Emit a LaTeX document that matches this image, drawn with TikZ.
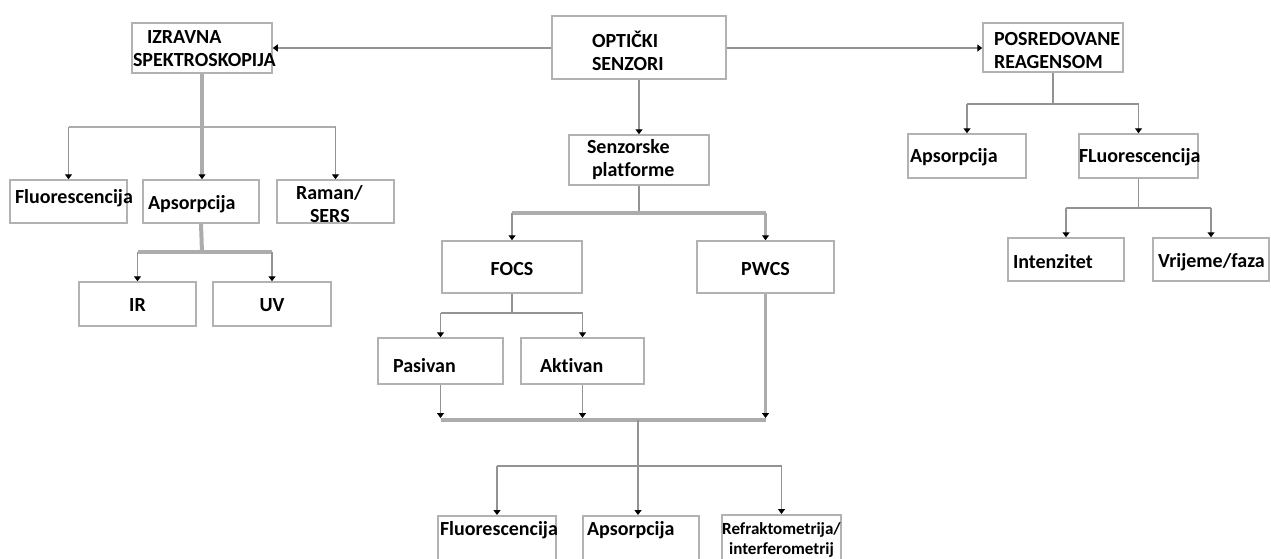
\documentclass[tikz,border=0pt]{standalone}
\usepackage{fontspec}
\setmainfont[Ligatures=NoCommon]{Carlito}
\usetikzlibrary{arrows.meta}
\hyphenpenalty=10000

\begin{document}
\begin{tikzpicture}[x=1pt,y=-1pt,
  box/.style={draw=gray!60,line width=1.5pt,rectangle,inner ysep=0pt,align=left,
    font=\fontsize{20}{23}\selectfont\bfseries},
  ln/.style={draw=gray!85,line width=1.5pt},
  thk/.style={draw=gray!65,line width=3.5pt},
  arr/.style={ln,-{Triangle[length=5pt,width=7pt,black]}},
  tarr/.style={thk,-{Triangle[length=5pt,width=7pt,black]}}]
\useasboundingbox (0,0) rectangle (1271,558);

% top row
\node[box,inner xsep=40pt,text width=94pt,text height=31pt,text depth=32pt] (opticki) at (639,47.5) {OPTIČKI\\SENZORI};
\node[box,inner xsep=1pt,text width=138pt,text height=20pt,text depth=30pt] (izravna) at (202,48) {\hspace*{14pt}IZRAVNA\\SPEKTROSKOPIJA};
\node[box,inner xsep=11pt,text width=118pt,text height=22pt,text depth=27pt] (posred) at (1053,47.5) {POSREDOVANE\\REAGENSOM};
\node[box,inner xsep=18pt,text width=104pt,text height=18pt,text depth=32pt] (senz) at (639,160) {Senzorske\\\hspace*{5pt}platforme};

% izravna spektroskopija
\node[box,inner xsep=5pt,text width=107pt,text height=23pt,text depth=20pt] (fluoA) at (68.5,201.5) {Fluorescencija};
\node[box,inner xsep=5pt,text width=106pt,text height=29pt,text depth=14pt] (apsoA) at (201,201.5) {Apsorpcija};
\node[box,inner xsep=19pt,text width=79pt,text height=19pt,text depth=24pt] (raman) at (335.5,201.5) {Raman/\\\hspace*{14pt}SERS};
\node[box,inner xsep=0pt,text width=117pt,align=center,text height=29pt,text depth=15pt] (ir) at (137.5,304) {IR};
\node[box,inner xsep=0pt,text width=118pt,align=center,text height=29pt,text depth=15pt] (uv) at (272,304) {UV};

% senzorske platforme
\node[box,inner xsep=0pt,text width=140pt,align=center,text height=34pt,text depth=18pt] (focs) at (512,267) {FOCS};
\node[box,inner xsep=0pt,text width=137pt,align=center,text height=34pt,text depth=18pt] (pwcs) at (765.5,267) {PWCS};
\node[box,inner xsep=15pt,text width=95pt,text height=34pt,text depth=12pt] (pasivan) at (440.5,361) {Pasivan};
\node[box,inner xsep=19pt,text width=85pt,text height=34pt,text depth=12pt] (aktivan) at (582.5,361) {Aktivan};
\node[box,anchor=north,inner xsep=2pt,text width=114pt,text height=20pt,text depth=28pt] (fluoB) at (497,515) {Fluorescencija};
\node[box,anchor=north,inner xsep=4pt,text width=108pt,text height=20pt,text depth=28pt] (apsoB) at (641,515) {Apsorpcija};
\node[box,anchor=north,inner xsep=0pt,minimum width=117pt,text height=20pt,text depth=30pt,align=center,
  font=\fontsize{17}{20}\selectfont\bfseries] (refr) at (781.5,514)
  {\begin{tabular}[t]{@{}c@{}}Refraktometrija/\\interferometrij\end{tabular}};

% posredovane reagensom
\node[box,inner xsep=2pt,text width=114pt,text height=28pt,text depth=16pt] (apsoC) at (967,156) {Apsorpcija};
\node[box,inner xsep=0pt,text width=119pt,text height=28pt,text depth=16pt] (fluoC) at (1138.5,156) {FLuorescencija};
\node[box,inner xsep=5pt,text width=106pt,text height=30pt,text depth=13pt] (intenz) at (1066,259.5) {Intenzitet};
\node[box,inner xsep=5pt,text width=106pt,text height=29pt,text depth=14pt] (vrij) at (1211,259.5) {Vrijeme/faza};

\draw[arr] (opticki.west |- izravna.east) -- (izravna.east);
\draw[arr] (opticki.east |- izravna.east) -- (posred.west |- izravna.east);
\draw[arr] (opticki) -- (senz);

\coordinate (b1) at (202,127);
\coordinate (b2) at (202,252);
\draw[thk,line width=2.5pt] (fluoA.north |- b1) -- (raman.north |- b1);
\draw[tarr,line width=4pt] (izravna.south) -- (izravna.south |- apsoA.north);
\draw[arr] (fluoA.north |- b1) -- (fluoA.north);
\draw[arr] (raman.north |- b1) -- (raman.north);
\draw[thk,line width=4pt] (apsoA.south) -- (b2);
\draw[thk] (ir.north |- b2) -- (uv.north |- b2);
\draw[arr] (ir.north |- b2) -- (ir.north);
\draw[arr] (uv.north |- b2) -- (uv.north);

\coordinate (b3) at (639,213);
\draw[ln] (senz.south) -- (b3);
\draw[thk] (focs.north |- b3) -- (pwcs.north |- b3);
\draw[arr] (focs.north |- b3) -- (focs.north);
\draw[tarr,line width=2.5pt] (pwcs.north |- b3) -- (pwcs.north);

\coordinate (b4) at (512,313);
\draw[ln] (focs.south) -- (b4);
\draw[ln] (pasivan.north |- b4) -- (aktivan.north |- b4);
\draw[arr] (pasivan.north |- b4) -- (pasivan.north);
\draw[arr] (aktivan.north |- b4) -- (aktivan.north);

\coordinate (b5) at (638,420);
\coordinate (b5a) at (638,418);
\coordinate (b6) at (638,466);
\draw[thk] (pasivan.south |- b5) -- (pwcs.south |- b5);
\draw[arr] (pasivan.south) -- (pasivan.south |- b5a);
\draw[arr] (aktivan.south) -- (aktivan.south |- b5a);
\draw[tarr,line width=2.5pt] (pwcs.south) -- (pwcs.south |- b5a);
\draw[ln] (b5) -- (b6);
\draw[ln] (fluoB.north |- b6) -- (refr.north |- b6);
\draw[arr] (fluoB.north |- b6) -- (fluoB.north);
\draw[arr] (b6) -- (b6 |- apsoB.north);
\draw[arr] (refr.north |- b6) -- (refr.north);

\coordinate (b7) at (1053,104);
\coordinate (b8) at (1138.5,208);
\draw[ln] (posred.south) -- (b7);
\draw[ln] (apsoC.north |- b7) -- (fluoC.north |- b7);
\draw[arr] (apsoC.north |- b7) -- (apsoC.north);
\draw[arr] (fluoC.north |- b7) -- (fluoC.north);
\draw[ln] (fluoC.south) -- (b8);
\draw[ln] (intenz.north |- b8) -- (vrij.north |- b8);
\draw[arr] (intenz.north |- b8) -- (intenz.north);
\draw[arr] (vrij.north |- b8) -- (vrij.north);

\end{tikzpicture}
\end{document}
